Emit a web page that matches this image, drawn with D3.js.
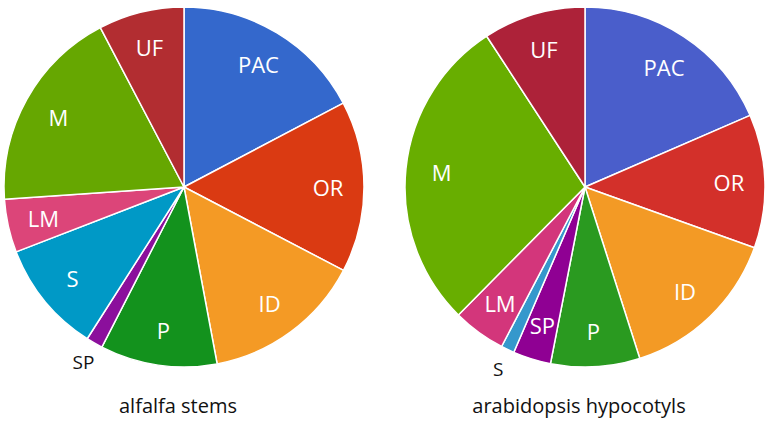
<!DOCTYPE html>
<html>
<head>
<meta charset="utf-8">
<script src="https://cdn.jsdelivr.net/npm/d3@7"></script>
<style>
  body { margin: 0; background: #fff; }
  svg { display: block; }
</style>
</head>
<body>
<div id="chart-area"></div>
<script>
// slice order, clockwise from 12 o'clock
const categories = ["PAC", "OR", "ID", "P", "SP", "S", "LM", "M", "UF"];

// percent of fragments
const alfalfaValues = [17.3, 15.4, 14.4, 10.5, 1.5, 10.1, 4.8, 18.4, 7.7];
const arabidopsisValues = [18.5, 12.0, 14.6, 8.0, 3.4, 1.2, 4.75, 28.4, 9.2];

const alfalfaColors = ["#3468cc", "#da3a12", "#f49a25", "#13921d", "#8b0f9c", "#0099c6", "#dc4579", "#66a701", "#b22d31"];
const arabidopsisColors = ["#4a5ecb", "#d3302a", "#f39a25", "#2a9a20", "#8f0093", "#3598cc", "#d3367b", "#68ae00", "#ad2239"];

const titles = ["alfalfa stems", "arabidopsis hypocotyls"];

const WIDTH = 773, HEIGHT = 424;
const RADIUS = 180;
const FONT = "'Open Sans', 'DejaVu Sans', sans-serif";

const svg = d3.select("#chart-area")
  .append("svg")
    .attr("width", WIDTH)
    .attr("height", HEIGHT);

const pie = d3.pie()
  .sort(null)
  .value(d => d.value);

const arc = d3.arc()
  .innerRadius(0)
  .outerRadius(RADIUS);

const labelArc = d3.arc()
  .innerRadius(RADIUS * 0.8)
  .outerRadius(RADIUS * 0.8);

const outerLabelArc = d3.arc()
  .innerRadius(RADIUS + 22)
  .outerRadius(RADIUS + 22);

const drawPie = (values, colors, title, cx, cy) => {
  const data = categories.map((k, i) => ({ k: k, value: values[i], color: colors[i] }));
  const total = d3.sum(values);
  const isSmall = d => d.data.value / total < 0.02;

  const g = svg.append("g")
    .attr("transform", `translate(${cx}, ${cy})`);

  const slices = g.selectAll(".slice")
    .data(pie(data))
    .enter()
    .append("g")
      .attr("class", "slice");

  slices.append("path")
    .attr("d", arc)
    .attr("fill", d => d.data.color)
    .attr("stroke", "#fff")
    .attr("stroke-width", 1.5)
    .attr("stroke-linejoin", "round");

  // tiny slices get a black label outside the pie
  slices.append("text")
    .attr("transform", d => {
      const c = isSmall(d) ? outerLabelArc.centroid(d) : labelArc.centroid(d);
      return `translate(${c[0]}, ${c[1]})`;
    })
    .attr("text-anchor", "middle")
    .attr("dominant-baseline", "central")
    .attr("font-family", FONT)
    .attr("font-size", d => isSmall(d) ? "19px" : "22px")
    .attr("fill", d => isSmall(d) ? "#111" : "#fff")
    .text(d => d.data.k);

  svg.append("text")
    .attr("x", cx - 6)
    .attr("y", 413)
    .attr("text-anchor", "middle")
    .attr("font-family", FONT)
    .attr("font-size", "20px")
    .attr("fill", "#111")
    .text(title);
};

drawPie(alfalfaValues, alfalfaColors, titles[0], 184, 187);
drawPie(arabidopsisValues, arabidopsisColors, titles[1], 585, 187);
</script>
</body>
</html>
